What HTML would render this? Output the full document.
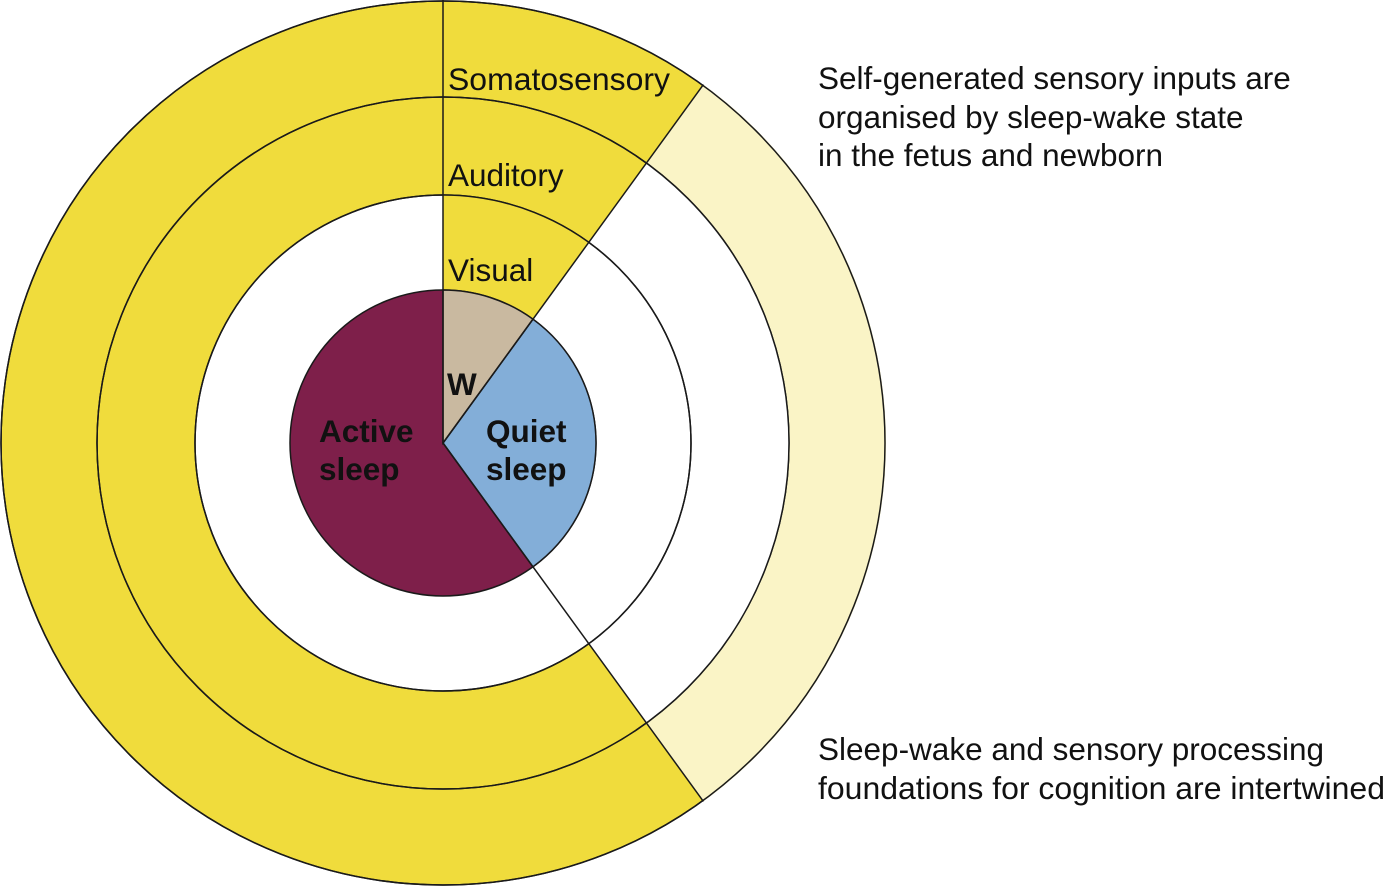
<!DOCTYPE html>
<html><head><style>body{margin:0;background:#fff}svg{display:block}</style></head>
<body>
<svg width="1387" height="886" viewBox="0 0 1387 886" xmlns="http://www.w3.org/2000/svg" font-family="Liberation Sans, sans-serif">
<g stroke="#1a1a1a" stroke-width="1.5">
<circle cx="443" cy="443" r="442" fill="#F0DC3C"/>
<path d="M443 443 L703.4 84.6 A443 443 0 0 1 703.4 801.4 Z" fill="#FAF4C6" stroke="none"/>
<circle cx="443" cy="443" r="346" fill="#F0DC3C"/>
<path d="M443 443 L646.4 163.1 A346 346 0 0 1 646.4 722.9 Z" fill="#FFFFFF" stroke="none"/>
<circle cx="443" cy="443" r="248" fill="#FFFFFF"/>
<path d="M443 443 L443 195 A248 248 0 0 1 588.8 242.4 Z" fill="#F0DC3C" stroke="none"/>
<circle cx="443" cy="443" r="248" fill="none"/>
<circle cx="443" cy="443" r="346" fill="none"/>
<circle cx="443" cy="443" r="442" fill="none"/>
<circle cx="443" cy="443" r="153" fill="#7E1F4A"/>
<path d="M443 443 L532.9 319.2 A153 153 0 0 1 532.9 566.8 Z" fill="#83AED8"/>
<path d="M443 443 L443 290 A153 153 0 0 1 532.9 319.2 Z" fill="#C9B9A0"/>
<line x1="443" y1="443" x2="443" y2="0"/>
<line x1="443" y1="443" x2="703.4" y2="84.6"/>
<line x1="443" y1="443" x2="703.4" y2="801.4"/>
</g>
<g font-size="31.5" fill="#111">
<text x="448" y="90" textLength="222" lengthAdjust="spacingAndGlyphs">Somatosensory</text>
<text x="448" y="186">Auditory</text>
<text x="448" y="281">Visual</text>
<text x="818" y="89">Self-generated sensory inputs are</text>
<text x="818" y="128">organised by sleep-wake state</text>
<text x="818" y="166">in the fetus and newborn</text>
<text x="818" y="760">Sleep-wake and sensory processing</text>
<text x="818" y="799" textLength="567" lengthAdjust="spacingAndGlyphs">foundations for cognition are intertwined</text>
</g>
<g font-size="31.5" font-weight="bold" fill="#111">
<text x="447" y="395">W</text>
<text x="319" y="442">Active</text>
<text x="319" y="480">sleep</text>
<text x="486" y="442">Quiet</text>
<text x="486" y="480">sleep</text>
</g>
</svg>
</body></html>
